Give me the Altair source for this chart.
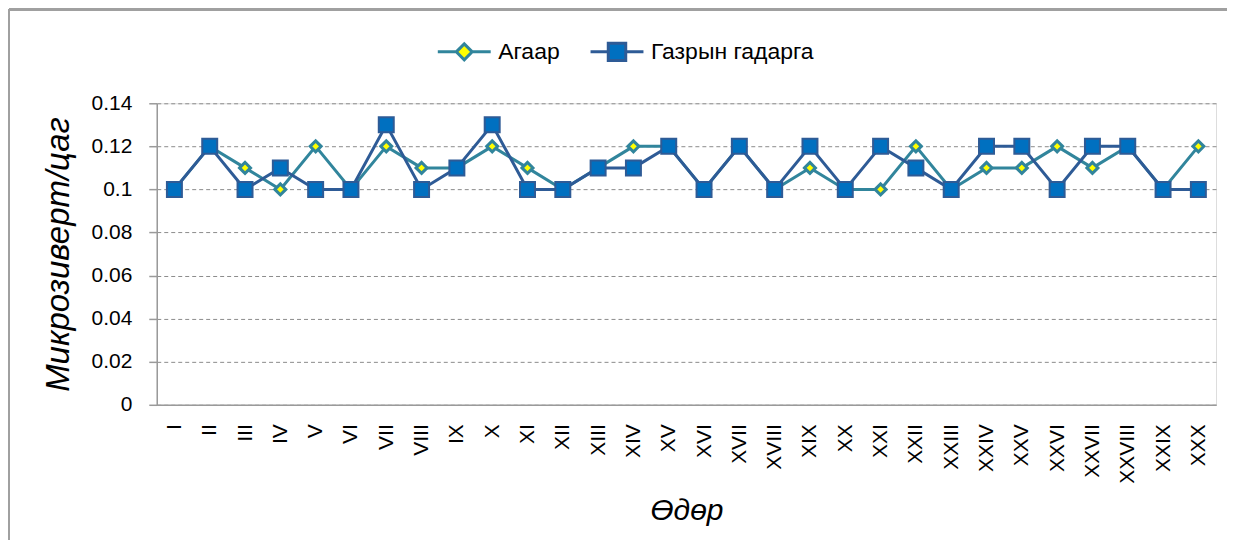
import altair as alt
import pandas as pd

days = ["I", "II", "III", "IV", "V", "VI", "VII", "VIII", "IX", "X",
        "XI", "XII", "XIII", "XIV", "XV", "XVI", "XVII", "XVIII", "XIX", "XX",
        "XXI", "XXII", "XXIII", "XXIV", "XXV", "XXVI", "XXVII", "XXVIII", "XXIX", "XXX"]
agaar = [0.10, 0.12, 0.11, 0.10, 0.12, 0.10, 0.12, 0.11, 0.11, 0.12,
         0.11, 0.10, 0.11, 0.12, 0.12, 0.10, 0.12, 0.10, 0.11, 0.10,
         0.10, 0.12, 0.10, 0.11, 0.11, 0.12, 0.11, 0.12, 0.10, 0.12]
gazar = [0.10, 0.12, 0.10, 0.11, 0.10, 0.10, 0.13, 0.10, 0.11, 0.13,
         0.10, 0.10, 0.11, 0.11, 0.12, 0.10, 0.12, 0.10, 0.12, 0.10,
         0.12, 0.11, 0.10, 0.12, 0.12, 0.10, 0.12, 0.12, 0.10, 0.10]
series_names = ["Агаар", "Газрын гадарга"]
y_ticks = [0, 0.02, 0.04, 0.06, 0.08, 0.10, 0.12, 0.14]

rows = []
for d, a, g in zip(days, agaar, gazar):
    rows.append({"day": d, "series": series_names[0], "value": a})
    rows.append({"day": d, "series": series_names[1], "value": g})
df = pd.DataFrame(rows)

TEAL = "#31859C"
YELLOW = "#FFFF00"
NAVY = "#2E5B96"
BLUE = "#0070C0"
FONT = "Liberation Sans"

x_enc = alt.X("day:N", sort=days,
              scale=alt.Scale(type="point", padding=0.5),
              axis=alt.Axis(title="Өдөр", labelAngle=270, ticks=False,
                            labelFontSize=21, labelPadding=19, labelColor="black",
                            domainColor="#9a9a9a", domainWidth=1.5, grid=False,
                            titleFontSize=30, titleFontStyle="italic",
                            titleFontWeight="normal", titlePadding=12,
                            titleColor="black"))
y_enc = alt.Y("value:Q",
              scale=alt.Scale(domain=[0, 0.14], nice=False, zero=True),
              axis=alt.Axis(title="Микрозиверт/цаг", values=y_ticks, format=".2~f",
                            labelFontSize=21, labelPadding=17, labelColor="black",
                            tickSize=8, tickColor="#9a9a9a", tickWidth=1.5,
                            domainColor="#9a9a9a", domainWidth=1.5,
                            grid=True, gridColor="#8c8c8c", gridDash=[4, 3], gridWidth=1,
                            titleFontSize=33, titleFontStyle="italic",
                            titleFontWeight="normal", titlePadding=16,
                            titleColor="black"))

base = alt.Chart(df).encode(x=x_enc, y=y_enc)
data_a = base.transform_filter(alt.datum.series == series_names[0])
data_g = base.transform_filter(alt.datum.series == series_names[1])

line_a = data_a.mark_line(color=TEAL, strokeWidth=3)
pts_a = data_a.mark_point(shape="diamond", filled=True, fill=YELLOW, stroke=TEAL,
                          strokeWidth=3, size=121, opacity=1)
line_g = data_g.mark_line(color=NAVY, strokeWidth=3)
pts_g = data_g.mark_point(shape="square", filled=True, fill=BLUE, stroke=NAVY,
                          strokeWidth=2, size=225, opacity=1)

path_a = "M-1,0H-0.3M0.3,0H1M0,-0.3L0.3,0L0,0.3L-0.3,0Z"
path_g = "M-1,0H-0.33M0.33,0H1M-0.33,-0.33H0.33V0.33H-0.33Z"


def make_legend(x):
    return alt.Legend(title=None, orient="none", legendX=x, legendY=-79.5,
                      direction="horizontal", symbolSize=2809, symbolStrokeWidth=3,
                      labelFontSize=23, labelColor="black", labelOffset=6,
                      labelLimit=400, labelFont=FONT)


leg_a = data_a.mark_point(filled=True, fill=YELLOW, stroke=TEAL, strokeWidth=3, opacity=0).encode(
    shape=alt.Shape("series:N", scale=alt.Scale(domain=[series_names[0]], range=[path_a]),
                    legend=make_legend(280)))
leg_g = data_g.mark_point(filled=True, fill=BLUE, stroke=NAVY, strokeWidth=3, opacity=0).encode(
    shape=alt.Shape("series:N", scale=alt.Scale(domain=[series_names[1]], range=[path_g]),
                    legend=make_legend(433)))

frame_left = alt.Chart(df).mark_rule(color="#a0a0a0", strokeWidth=2).encode(
    x=alt.value(-148), y=alt.value(-94), y2=alt.value(437))
frame_top = alt.Chart(df).mark_rule(color="#a0a0a0", strokeWidth=2).encode(
    x=alt.value(-148), x2=alt.value(1072), y=alt.value(-94))

chart = alt.layer(line_a, pts_a, line_g, pts_g, leg_a, leg_g, frame_left, frame_top).resolve_scale(
    shape="independent"
).properties(
    width=1061, height=302,
    padding={"left": 0, "top": 0, "right": 0, "bottom": 0},
    background="white",
).configure_view(stroke=None).configure(font=FONT)

chart.save("out.html", embed_options={"renderer": "svg", "actions": False})
